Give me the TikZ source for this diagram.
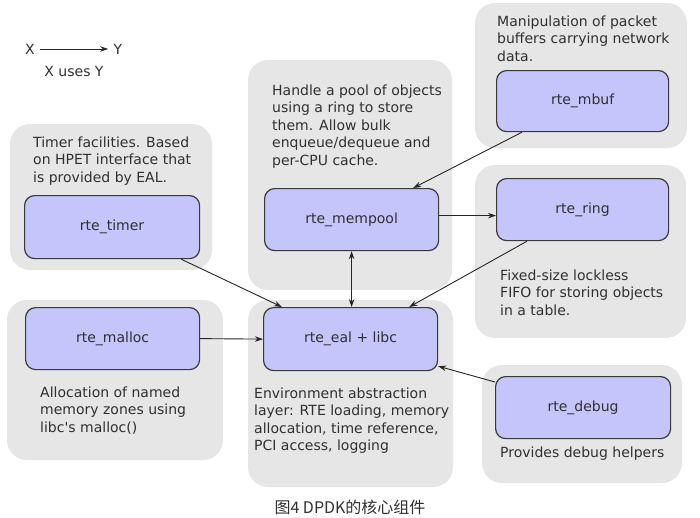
\documentclass[tikz,border=0pt]{standalone}
\usepackage{fontspec}
\setmainfont{DejaVu Sans}
\newfontfamily\cjkfont{Noto Sans CJK SC}
\usetikzlibrary{arrows.meta}
\definecolor{panelgrey}{HTML}{E6E6E6}
\definecolor{boxblue}{HTML}{C5C5FB}
\definecolor{edgegrey}{HTML}{3A3A3A}
\definecolor{textgrey}{HTML}{303030}
\tikzset{
  panel/.style={fill=panelgrey, draw=none, rounded corners=20pt},
  modbox/.style={fill=boxblue, draw=edgegrey, line width=1.2pt, rounded corners=10pt, anchor=north west},
  modlabel/.style={font=\fontsize{14}{17}\selectfont, text=textgrey},
  desc/.style={font=\fontsize{14}{17.5}\selectfont, text=textgrey, align=left, anchor=north west, inner sep=0pt},
  uses/.style={-{Stealth[length=8pt,width=5.5pt]}, line width=0.9pt, draw=black!85},
  usesboth/.style={{Stealth[length=8pt,width=5.5pt]}-{Stealth[length=8pt,width=5.5pt]}, line width=0.9pt, draw=black!85},
}
\begin{document}
\begin{tikzpicture}[x=1pt,y=-1pt]
\useasboundingbox (0,0) rectangle (700,517);
% panels
\fill[panel] (10,124) rectangle (212,270);
\fill[panel] (248,60) rectangle (452,290);
\fill[panel] (475,3) rectangle (687,148);
\fill[panel] (475,165) rectangle (686,338);
\fill[panel] (7,300) rectangle (223,460);
\fill[panel] (248,300) rectangle (453,487);
\fill[panel] (482,365) rectangle (682,483);
% boxes
\node[modbox, minimum width=175pt, minimum height=63pt] (timer) at (24,195) {};
\node[modlabel] at (timer.center) {rte\_timer};
\node[modbox, minimum width=174pt, minimum height=62pt] (mempool) at (264,188) {};
\node[modlabel] at (mempool.center) {rte\_mempool};
\node[modbox, minimum width=172pt, minimum height=61pt] (mbuf) at (496,70) {};
\node[modlabel] at (mbuf.center) {rte\_mbuf};
\node[modbox, minimum width=172pt, minimum height=62pt] (ring) at (496,178) {};
\node[modlabel] at (ring.center) {rte\_ring};
\node[modbox, minimum width=174pt, minimum height=62pt] (malloc) at (25,307) {};
\node[modlabel] at (malloc.center) {rte\_malloc};
\node[modbox, minimum width=174pt, minimum height=63pt] (eal) at (263,307) {};
\node[modlabel] at (eal.center) {rte\_eal + libc};
\node[modbox, minimum width=175pt, minimum height=62pt] (debug) at (495,376) {};
\node[modlabel] at (debug.center) {rte\_debug};
% descriptions
\node[desc] (dtimer) at (33,136.5) {Timer facilities. Based\\on HPET interface that\\is provided by EAL.};
\node[desc] (dmempool) at (272,84.5) {Handle a pool of objects\\using a ring to store\\them. Allow bulk\\enqueue/dequeue and\\per-CPU cache.};
\node[desc] (dmbuf) at (497,15.5) {Manipulation of packet\\buffers carrying network\\data.};
\node[desc] (dring) at (500,269.5) {Fixed-size lockless\\FIFO for storing objects\\in a table.};
\node[desc] (dmalloc) at (40,386.5) {Allocation of named\\memory zones using\\libc\textquotesingle s malloc()};
\node[desc] (deal) at (254,387.5) {Environment abstraction\\layer: RTE loading, memory\\allocation, time reference,\\PCI access, logging};
\node[desc] (ddebug) at (500,446.5) {Provides debug helpers};
% legend
\node[modlabel] (lx) at (30,49) {X};
\node[modlabel] (ly) at (118,49) {Y};
\draw[uses] ([xshift=2pt]lx.east) -- ([xshift=-2pt]ly.west);
\node[modlabel] (luses) at (74,71) {X uses Y};
% connectors
\draw[uses] ([xshift=-19pt]timer.south east) -- ([xshift=19pt]eal.north west);
\draw[uses] ([xshift=26pt]mbuf.south west) -- ([xshift=-26pt]mempool.north east);
\coordinate (mpr) at ([yshift=4pt]mempool.east);
\draw[uses] (mpr) -- (ring.west |- mpr);
\draw[usesboth] (mempool.south) -- (mempool.south |- eal.north);
\draw[uses] ([xshift=31pt]ring.south west) -- ([xshift=-29pt]eal.north east);
\draw[uses] (malloc.east) -- (eal.west);
\draw[uses] ([yshift=-6pt]debug.north west) -- ([yshift=5pt]eal.south east);
% caption
\node[font=\cjkfont\fontsize{16}{18}\selectfont, text=textgrey] (caption) at (350,507) {图4 DPDK的核心组件};
\end{tikzpicture}
\end{document}
